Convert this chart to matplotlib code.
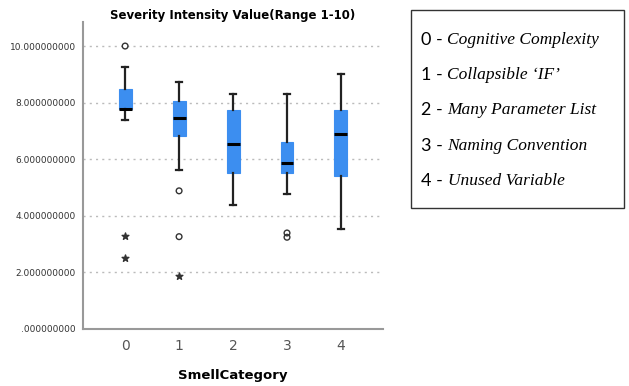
import numpy as np
import matplotlib.pyplot as plt

# box statistics
categories = [0, 1, 2, 3, 4]
medians = [7.76, 7.44, 6.54, 5.87, 6.88]
q1 = [7.76, 6.81, 5.51, 5.51, 5.41]
q3 = [8.49, 8.07, 7.75, 6.61, 7.75]
whis_lo = [7.40, 5.61, 4.39, 4.76, 3.52]
whis_hi = [9.25, 8.72, 8.30, 8.30, 9.00]

# outliers (circles) and extremes (stars)
out_x = [0, 1, 1, 3, 3]
out_y = [10.0, 4.88, 3.26, 3.39, 3.24]
ext_x = [0, 0, 1]
ext_y = [3.27, 2.50, 1.86]

legend_nums = ['0', '1', '2', '3', '4']
legend_names = ['Cognitive Complexity', "Collapsible \u2018IF\u2019",
                'Many Parameter List', 'Naming Convention', 'Unused Variable']

fig = plt.figure(figsize=(6.29, 3.86), dpi=100)
ax = fig.add_axes([0.132, 0.148, 0.477, 0.795])

stats = []
for i in range(len(categories)):
    stats.append(dict(med=medians[i], q1=q1[i], q3=q3[i],
                      whislo=whis_lo[i], whishi=whis_hi[i], fliers=[]))

ax.bxp(stats, positions=categories, widths=0.24, patch_artist=True,
       showfliers=False,
       boxprops=dict(facecolor='#3c8ef0', edgecolor='#3c8ef0', linewidth=0.8),
       medianprops=dict(color='black', linewidth=2.2),
       whiskerprops=dict(color='#222222', linewidth=1.6),
       capprops=dict(color='#222222', linewidth=1.6),
       capwidths=0.12)

ax.scatter(out_x, out_y, marker='o', s=17, facecolors='none',
           edgecolors='#333333', linewidths=1.0, zorder=3)
ax.scatter(ext_x, ext_y, marker='*', s=26, color='#333333', zorder=3)

ax.set_xlim(-0.78, 4.78)
ax.set_ylim(0, 10.85)
ax.set_yticks([0, 2, 4, 6, 8, 10])
ax.set_yticklabels(['.000000000', '2.000000000', '4.000000000',
                    '6.000000000', '8.000000000', '10.000000000'],
                   fontsize=6.5, color='#333333')
ax.set_xticks(categories)
ax.set_xticklabels([str(c) for c in categories], fontsize=10, color='#555555')
ax.tick_params(length=0, pad=5)
ax.tick_params(axis='x', pad=7)

ax.yaxis.grid(True, linestyle=(0, (1.5, 3)), color='#bbbbbb', linewidth=1)
ax.set_axisbelow(True)
for s in ['top', 'right']:
    ax.spines[s].set_visible(False)
for s in ['left', 'bottom']:
    ax.spines[s].set_color('#999999')
    ax.spines[s].set_linewidth(1.5)

fig.text(233 / 629, 1 - 15 / 386, 'Severity Intensity Value(Range 1-10)',
         fontsize=8.5, fontweight='bold', ha='center', va='center')
ax.set_xlabel('SmellCategory', fontsize=9.5, fontweight='bold', labelpad=12)

# category key box on the right
fig.patches.append(plt.Rectangle((411 / 629, 1 - 208 / 386), 213 / 629, 198 / 386,
                                 transform=fig.transFigure, fill=False,
                                 edgecolor='#333333', linewidth=1.0))
for i, (n, name) in enumerate(zip(legend_nums, legend_names)):
    y = 1 - (40 + i * 35.2) / 386
    t = fig.text(421 / 629, y, n + ' - ', fontsize=13, family='Lato',
                 va='center', ha='left')
    fig.canvas.draw()
    bb = t.get_window_extent()
    fig.text(bb.x1 / fig.bbox.width, y, name, fontsize=12.5, family='Liberation Serif',
             style='italic', va='center', ha='left')

fig.savefig('out.png', dpi=100)
